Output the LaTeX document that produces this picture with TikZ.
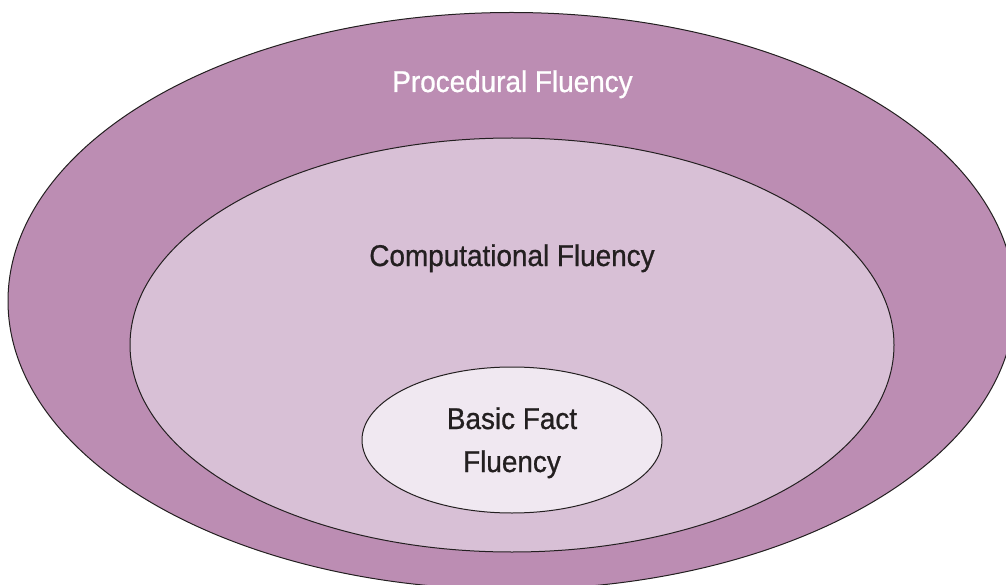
\documentclass[tikz,border=0pt]{standalone}
\usepackage{fontspec}
\setmainfont{Liberation Sans}[FakeStretch=0.93, FakeBold=0.8]
\usetikzlibrary{shapes.geometric}
\definecolor{outerfill}{RGB}{188,141,179}
\definecolor{midfill}{RGB}{216,192,214}
\definecolor{innerfill}{RGB}{240,232,241}
\definecolor{ink}{RGB}{35,31,32}
\tikzset{
  ring/.style={draw=ink, line width=1pt},
  lbl/.style={font=\fontsize{30}{43}\selectfont, inner sep=0pt, anchor=base, align=center},
}
\begin{document}
\begin{tikzpicture}[x=1pt,y=-1pt]
\useasboundingbox (0,0) rectangle (1006,585);
\clip (0,0) rectangle (1006,585);
\draw[ring, fill=outerfill] (511.5,301) ellipse [x radius=503.5, y radius=288.5];
\draw[ring, fill=midfill] (512,345) ellipse [x radius=382, y radius=207];
\draw[ring, fill=innerfill] (512,440) ellipse [x radius=150, y radius=73];
\node[lbl, text=white] (proc) at (512.5,92) {Procedural Fluency};
\node[lbl, text=ink] (comp) at (512,266) {Computational Fluency};
\node[lbl, text=ink] (basic) at (512,472) {Basic Fact\\Fluency};
\end{tikzpicture}
\end{document}
